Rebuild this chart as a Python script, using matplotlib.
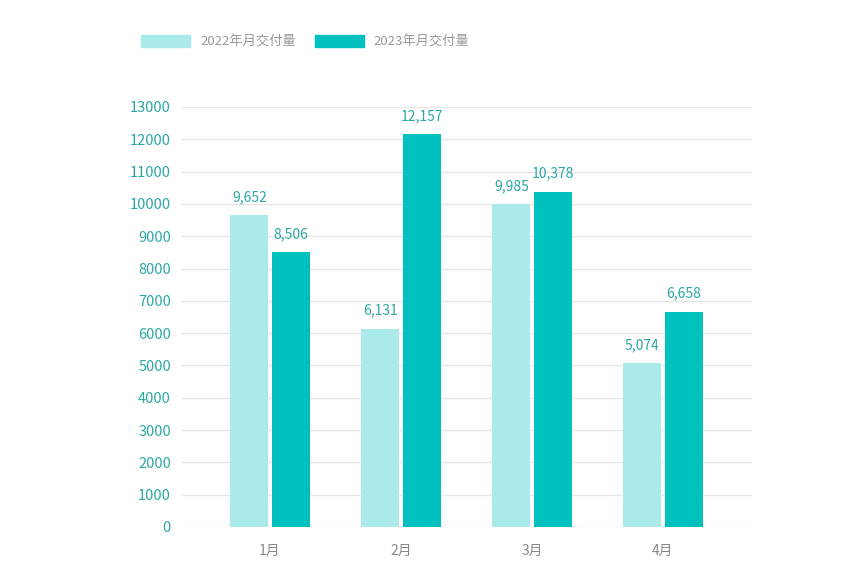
import matplotlib.pyplot as plt
from matplotlib.patches import Rectangle
import numpy as np

plt.rcParams['font.family'] = ['Noto Sans CJK SC', 'DejaVu Sans']

months = ["1月", "2月", "3月", "4月"]
deliv_2022 = [9652, 6131, 9985, 5074]
deliv_2023 = [8506, 12157, 10378, 6658]
labels = ["2022年月交付量", "2023年月交付量"]

c_light = "#aaeaea"
c_dark = "#00c1be"
c_text = "#2aa8a2"

fig = plt.figure(figsize=(8.68, 5.73), dpi=100)
ax = fig.add_axes([0.2097, 0.0803, 0.6567, 0.733])

x = np.arange(len(months))
w = 0.29
off = 0.157
b1 = ax.bar(x - off, deliv_2022, w, color=c_light, zorder=3)
b2 = ax.bar(x + off, deliv_2023, w, color=c_dark, zorder=3)

for bars in (b1, b2):
    for r in bars:
        h = r.get_height()
        ax.annotate(f"{h:,.0f}", (r.get_x() + r.get_width() / 2, h),
                    xytext=(0, 8), textcoords="offset points",
                    ha="center", va="bottom", fontsize=10, color=c_text)

ax.set_xlim(-0.672, 3.68)
ax.set_ylim(0, 13000)
ax.set_yticks(range(0, 13001, 1000))
ax.set_xticks(x)
ax.set_xticklabels(months)
ax.yaxis.grid(True, color="#e6e6e6", linewidth=1, zorder=0)
for s in ax.spines.values():
    s.set_visible(False)
ax.tick_params(axis="both", length=0)
ax.tick_params(axis="y", labelsize=10.5, labelcolor=c_text, pad=8)
ax.tick_params(axis="x", labelsize=10, labelcolor="#888888", pad=12)

# legend
fig.add_artist(Rectangle((141 / 868, 1 - 47 / 573), 49 / 868, 12 / 573,
                         transform=fig.transFigure, color=c_light))
fig.text(200 / 868, 1 - 41 / 573, labels[0], fontsize=9.5, color="#999999", va="center")
fig.add_artist(Rectangle((315 / 868, 1 - 47 / 573), 49 / 868, 12 / 573,
                         transform=fig.transFigure, color=c_dark))
fig.text(373 / 868, 1 - 41 / 573, labels[1], fontsize=9.5, color="#999999", va="center")

fig.savefig("out.png", dpi=100)
